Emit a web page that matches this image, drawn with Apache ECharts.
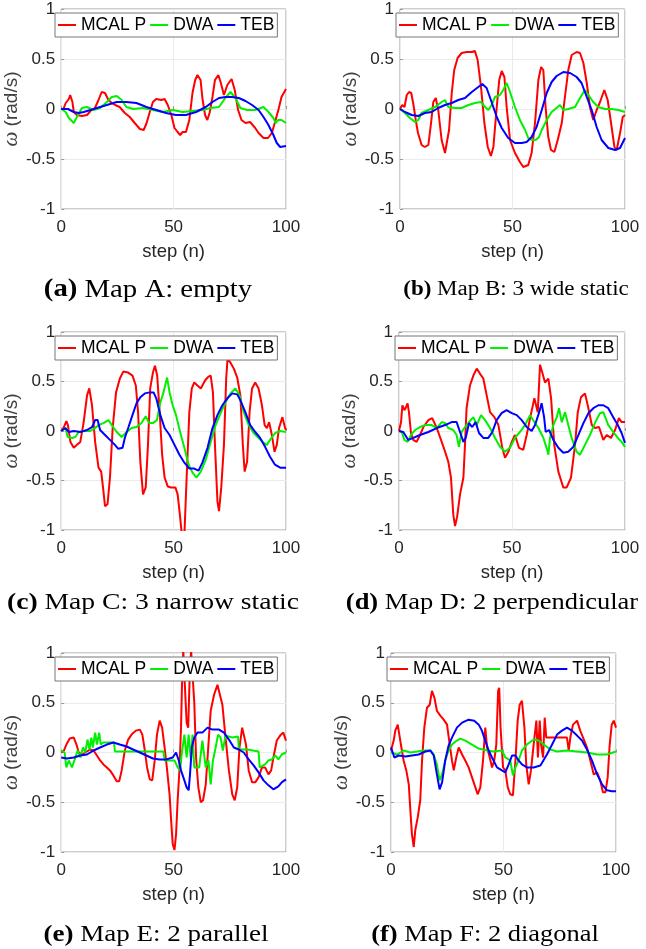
<!DOCTYPE html>
<html>
<head>
<meta charset="utf-8">
<script src="https://cdn.jsdelivr.net/npm/echarts@6/dist/echarts.min.js"></script>
<style>
  html, body { margin: 0; padding: 0; background: #fff; }
  #chart { width: 646px; height: 949px; }
</style>
</head>
<body>
<div id="chart"></div>
<script>
// series names and colours
var names = ['MCAL P', 'DWA', 'TEB'];
var colors = ['#ff0000', '#00f000', '#0000ff'];
var captions = [
  ['(a)', 'Map A: empty'],
  ['(b)', 'Map B: 3 wide static'],
  ['(c)', 'Map C: 3 narrow static'],
  ['(d)', 'Map D: 2 perpendicular'],
  ['(e)', 'Map E: 2 parallel'],
  ['(f)', 'Map F: 2 diagonal']
];

// map A: empty  ([step, omega])
var aMcal = [[0,0],[1,0],[2,0.06],[3.4,0.1],[4,0.14],[5,0.07],[5.6,-0.03],[7,-0.06],[9.2,-0.07],[11.5,-0.06],[13,-0.02],[15,0.01],[16.6,0.09],[18,0.17],[19.5,0.16],[21,0.09],[22.5,0.06],[24,0.04],[26,0.02],[28.3,-0.04],[30.5,-0.08],[32.7,-0.14],[35,-0.2],[36.7,-0.21],[38,-0.14],[39.4,-0.03],[40.8,0.07],[42.3,0.1],[44.5,0.09],[46,0.1],[47.4,0.04],[49,-0.06],[50.4,-0.19],[51.8,-0.23],[52.9,-0.26],[54,-0.23],[55.5,-0.23],[57,-0.11],[58.4,0.16],[59.6,0.29],[60.6,0.34],[62,0.29],[62.8,0.11],[64,-0.06],[65,-0.11],[66,-0.04],[67.3,0.12],[68.4,0.29],[69.9,0.34],[70.9,0.27],[72.4,0.14],[73.9,0.24],[75.8,0.3],[77.2,0.19],[78.7,-0.01],[80.2,-0.11],[82,-0.14],[84,-0.13],[86.3,-0.19],[87.8,-0.24],[90,-0.29],[92,-0.29],[93.7,-0.24],[95,-0.14],[96.6,-0.01],[98,0.12],[100,0.2]];
var aDwa = [[0,0],[2,-0.03],[3.4,-0.09],[5.6,-0.14],[7,-0.08],[9.2,0.01],[11.5,0.02],[14.4,-0.01],[17.3,0.01],[20.3,0.07],[22.5,0.12],[24.7,0.13],[26.9,0.09],[29,0.02],[32,0],[36.4,0.01],[40.8,-0.01],[45.2,-0.03],[49.6,-0.01],[54,-0.03],[58.4,-0.02],[62.8,-0.01],[66.5,0.01],[70.2,0.02],[73,0.11],[75.3,0.17],[77.5,0.11],[79.7,0.01],[82.7,-0.01],[86.3,-0.01],[90,0.02],[92.2,-0.03],[94.4,-0.09],[95.4,-0.14],[96.6,-0.11],[98,-0.11],[100,-0.14]];
var aTeb = [[0,0],[3,0],[5.6,-0.03],[7.8,-0.04],[10,-0.03],[13,-0.01],[15.9,0.01],[20.3,0.04],[24.7,0.07],[29,0.07],[33.5,0.06],[37.9,0.02],[42.3,-0.01],[46.7,-0.04],[51,-0.06],[55.5,-0.06],[60,-0.03],[64.3,0.02],[67.3,0.07],[70.2,0.11],[73.1,0.12],[76,0.12],[79,0.11],[82,0.08],[84.9,0.04],[87.8,-0.01],[90,-0.08],[92.2,-0.16],[94.4,-0.26],[95.9,-0.34],[97.4,-0.38],[100,-0.37]];

// map B: 3 wide static
var bMcal = [[0,0],[1,0.04],[2,0.02],[3,0.14],[4,0.17],[5,0.16],[6,0.04],[7,-0.11],[8,-0.24],[9.6,-0.36],[11,-0.38],[12.6,-0.36],[13.8,-0.14],[14.8,0.07],[15.9,0.11],[17,-0.01],[18.5,-0.31],[20,-0.44],[20.7,-0.43],[21.8,-0.21],[23,0.16],[24.1,0.39],[25.6,0.51],[27.4,0.56],[29.6,0.57],[31.9,0.57],[33.3,0.58],[34.5,0.49],[36,0.22],[37.5,-0.14],[39,-0.38],[40.4,-0.47],[41.5,-0.38],[43,0.02],[44.1,0.29],[45.2,0.38],[46.4,0.32],[47.4,0.02],[48.9,-0.31],[51.1,-0.44],[53.3,-0.53],[54.8,-0.58],[57,-0.56],[58.5,-0.44],[60,-0.14],[61.5,0.29],[62.7,0.42],[63.7,0.39],[64.7,0.02],[65.9,-0.28],[67.1,-0.41],[68.6,-0.43],[70.1,-0.31],[71.9,-0.14],[73.3,0.12],[74.8,0.39],[76.3,0.54],[78.5,0.57],[80,0.56],[81.5,0.46],[83,0.26],[84.4,0.02],[85.9,-0.11],[87.4,-0.01],[88.9,0.07],[90.8,0.19],[92.3,0.09],[93.8,-0.14],[95.3,-0.38],[96.3,-0.41],[97.8,-0.24],[99,-0.08],[100,-0.06]];
var bDwa = [[0,0],[2.2,-0.04],[4.4,-0.09],[6.7,-0.13],[8.1,-0.11],[9.6,-0.04],[12.6,-0.01],[15.6,0.02],[18.5,0.07],[20,0.09],[21.5,0.02],[24.4,0.01],[27.4,0.01],[30.4,0.04],[33.3,0.06],[36,0.07],[37.8,0.02],[39.3,-0.01],[40.7,0.04],[42.2,0.12],[44.4,0.14],[45.9,0.19],[47.4,0.26],[48.9,0.17],[51.1,0.02],[53.3,-0.11],[55.6,-0.21],[57,-0.29],[58.8,-0.31],[60.3,-0.31],[61.8,-0.28],[63,-0.21],[65.2,-0.11],[67.4,-0.03],[69.6,0.01],[71.1,0.04],[72.6,-0.01],[74.8,0],[77.8,0.02],[80,0.11],[82.2,0.19],[83.7,0.14],[85.9,0.07],[88.1,0.02],[91.1,0],[94.1,0],[97,-0.01],[100,-0.03]];
var bTeb = [[0,0],[2.2,-0.03],[5.2,-0.06],[8.1,-0.07],[11.1,-0.04],[14.1,-0.03],[17,0.01],[20,0.04],[23,0.06],[25.9,0.09],[28.9,0.11],[31.9,0.17],[34.8,0.22],[36.6,0.25],[38.5,0.21],[40.7,0.07],[43,-0.08],[45.2,-0.19],[48.1,-0.29],[51.1,-0.34],[54.1,-0.34],[56.3,-0.33],[58.5,-0.28],[60.7,-0.18],[63,-0.01],[65.2,0.16],[67.4,0.27],[69.6,0.33],[72.6,0.37],[75.6,0.36],[78.5,0.32],[80.7,0.26],[83,0.12],[85.2,-0.01],[87.4,-0.18],[89.6,-0.31],[92.6,-0.39],[95.6,-0.41],[97.8,-0.39],[100,-0.29]];

// map C: 3 narrow static
var cMcal = [[0,0],[1.2,0.04],[2.3,0.1],[3,0.06],[4.1,-0.11],[5.6,-0.17],[7,-0.14],[8.5,-0.11],[10,0.09],[11.5,0.36],[12.5,0.43],[13.7,0.26],[15.1,-0.11],[16.6,-0.37],[17.8,-0.41],[18.8,-0.61],[19.5,-0.76],[20.6,-0.74],[21.7,-0.47],[22.9,0.03],[24.4,0.39],[26.1,0.53],[27.6,0.6],[29.8,0.59],[31.7,0.56],[33.2,0.46],[34.2,0.19],[35.2,-0.31],[36.4,-0.64],[37.6,-0.57],[38.6,-0.14],[39.6,0.43],[40.8,0.59],[41.7,0.66],[42.7,0.56],[43.8,0.19],[44.9,-0.24],[46,-0.47],[47.4,-0.56],[48.9,-0.57],[50.8,-0.57],[51.8,-0.64],[52.9,-0.87],[53.7,-1.05],[54.8,-1.05],[55.8,-0.47],[57,0.19],[58.1,0.43],[59.2,0.49],[60.6,0.46],[62.1,0.43],[64,0.51],[65.5,0.55],[66.5,0.56],[67.5,0.39],[68.4,-0.14],[69.5,-0.71],[70.2,-0.81],[71.2,-0.57],[72.4,-0.14],[73.4,0.53],[74,0.73],[75.3,0.69],[76.8,0.63],[78.3,0.54],[79.7,0.36],[80.8,-0.14],[81.6,-0.41],[82.7,-0.31],[83.8,0.19],[84.9,0.43],[86.3,0.49],[87.8,0.43],[89.3,0.26],[90.5,0.06],[91.5,0.03],[92.5,0.09],[93.7,-0.04],[94.9,-0.21],[95.9,-0.14],[96.9,0.03],[98.4,0.14],[99.6,0.03],[100,0.01]];
var cDwa = [[0,0],[1.9,0.03],[2.9,-0.06],[4.8,-0.07],[6.3,-0.06],[7.8,-0.01],[10,0],[12.9,0],[15.1,0.03],[16.6,0.06],[18.8,0.08],[21,0.11],[22.5,0.06],[24.7,-0.01],[26.9,-0.06],[29.1,-0.01],[31.3,0.03],[33.5,0.04],[35.7,0.08],[37.6,0.15],[39.1,0.08],[40.8,0.08],[42.6,0.11],[44,0.28],[45.5,0.39],[47.1,0.54],[48.2,0.39],[49.6,0.26],[51.1,0.16],[52.9,-0.01],[54.8,-0.17],[56.7,-0.34],[58.4,-0.42],[60.2,-0.47],[62.1,-0.41],[64.3,-0.29],[66.5,-0.11],[68.7,0.06],[70.9,0.18],[73.1,0.29],[75.3,0.38],[77.5,0.43],[79.3,0.36],[81.2,0.19],[83.4,0.06],[85.6,-0.02],[87.8,-0.07],[90,-0.12],[91.5,-0.14],[92.9,-0.09],[95.2,-0.02],[97.4,0],[100,-0.01]];
var cTeb = [[0,0],[1.9,0.03],[3.4,-0.01],[5.6,0],[8.5,-0.01],[11.5,0.01],[13.7,0.04],[15.1,0.11],[16.2,0.11],[17.3,0.01],[19.5,-0.04],[21.7,-0.09],[23.9,-0.14],[25.4,-0.18],[27.3,-0.17],[28.3,-0.07],[29.8,0.03],[31.7,0.16],[33.5,0.28],[35.2,0.34],[37.2,0.38],[39.4,0.39],[41.1,0.39],[42.3,0.33],[44.1,0.16],[46,0.03],[48.2,-0.04],[50.4,-0.14],[52.6,-0.24],[54.8,-0.32],[57,-0.38],[59.2,-0.38],[61.1,-0.4],[62.8,-0.32],[65.1,-0.17],[67.3,0.03],[69.5,0.16],[71.7,0.26],[73.9,0.33],[76.1,0.38],[78.3,0.37],[79.7,0.31],[81.9,0.19],[84.1,0.06],[86.3,-0.01],[88.5,-0.07],[90.7,-0.16],[92.9,-0.26],[95.1,-0.34],[97.4,-0.37],[100,-0.37]];

// map D: 2 perpendicular
var dMcal = [[0,0],[0.9,0.09],[1.5,0.26],[2.4,0.21],[3.1,0.24],[3.8,0.28],[4.4,0.19],[5.3,-0.02],[6.3,-0.09],[7.8,-0.11],[9.3,-0.04],[10.8,0.04],[13,0.11],[14.7,0.13],[16.7,0.03],[18.9,-0.11],[20.4,-0.21],[21.8,-0.31],[23,-0.47],[24,-0.84],[24.8,-0.96],[25.7,-0.87],[27,-0.64],[28.5,-0.47],[29.2,-0.14],[29.9,0.23],[31.4,0.46],[32.9,0.56],[34.4,0.63],[35.8,0.58],[37.3,0.53],[38.8,0.36],[40.3,0.19],[42.2,0.14],[44,0.06],[45.7,-0.17],[46.9,-0.27],[48.4,-0.21],[49.9,-0.11],[51.3,-0.04],[53.1,-0.17],[55,-0.19],[56.5,-0.04],[58,0.13],[59.9,0.33],[61.4,0.19],[62.4,0.67],[63.4,0.59],[64.6,0.49],[66.1,0.53],[67.3,0.33],[68.7,-0.14],[70.5,-0.41],[72.7,-0.57],[74.2,-0.57],[76.1,-0.47],[77.9,-0.14],[79.1,0.19],[80.5,0.34],[82.3,0.38],[83.8,0.23],[85.3,0.06],[86.7,0.03],[88.5,0.04],[90.4,-0.09],[91.9,-0.04],[93.8,-0.07],[95.6,0.01],[97.3,0.13],[98.5,0.09],[100,0.09]];
var dDwa = [[0,0],[1.2,-0.01],[2.4,-0.09],[3.8,-0.11],[5.3,-0.04],[7.1,0.01],[9.3,0.04],[11.5,0.06],[14.5,0.06],[16.7,0.03],[18.9,0.09],[20.4,0.08],[21.8,0.03],[24,0.01],[25.5,-0.04],[26.5,-0.16],[27.7,-0.01],[29.2,0.04],[31,0.09],[32.9,0.14],[34.4,0.06],[36.3,0.16],[38.1,0.11],[40.3,0.03],[42.5,-0.07],[44.7,-0.16],[46.9,-0.21],[49.1,-0.17],[51.3,-0.07],[53.5,-0.01],[55.8,0.06],[58,0.16],[59.9,0.09],[61.7,0.03],[63.9,-0.07],[65.3,-0.17],[66.1,-0.24],[66.8,-0.07],[68.3,0.06],[69.8,0.14],[70.8,0.23],[72,0.09],[73.5,0.19],[74.9,0.06],[76.4,-0.07],[78.6,-0.21],[80.1,-0.24],[82.3,-0.14],[84.5,-0.04],[86.7,0.08],[88.9,0.18],[90.4,0.19],[92.6,0.06],[94.8,-0.01],[96.8,-0.07],[98.5,-0.11],[100,-0.16]];
var dTeb = [[0,0],[1.9,-0.01],[4.1,-0.09],[6.3,-0.07],[9.3,-0.04],[13,-0.01],[16.7,0.03],[20.4,0.06],[23.3,0.09],[25.5,0.09],[27,-0.01],[28.5,-0.11],[29.5,-0.07],[31,0.08],[32.4,0.04],[33.9,0.09],[35.4,-0.02],[37.3,-0.07],[39.5,-0.07],[41.3,-0.01],[43.2,0.11],[45.4,0.18],[47.6,0.21],[49.9,0.18],[52.1,0.16],[54.3,0.11],[56.5,0.04],[58.7,0],[60.2,0.06],[61.9,0.18],[63.1,0.28],[64.2,0.14],[64.9,-0.01],[66.4,0.01],[68.3,-0.09],[70.5,-0.17],[72.7,-0.22],[74.9,-0.21],[77.1,-0.16],[79.4,-0.04],[81.6,0.08],[83.8,0.18],[86,0.23],[88.2,0.26],[90.4,0.26],[92.6,0.23],[94.8,0.14],[96.8,0.06],[98.5,-0.02],[100,-0.12]];

// map E: 2 parallel
var eMcal = [[0,0],[1.2,0.02],[2.3,0.08],[3.8,0.14],[5.6,0.15],[6.8,0.08],[7.8,0],[9.3,-0.02],[10.7,0],[12.9,0.03],[14.4,0.02],[15.9,-0.03],[17.3,-0.08],[18.8,-0.12],[20.3,-0.15],[21.7,-0.18],[23.2,-0.23],[24.7,-0.29],[25.8,-0.29],[26.9,-0.18],[28.3,0.02],[29.8,0.13],[31.3,0.18],[33.2,0.22],[35,0.23],[36.1,0.18],[37.2,0.02],[38.2,-0.15],[39.4,-0.27],[40.5,-0.28],[41.6,-0.08],[42.6,0.18],[43.8,0.32],[44.9,0.25],[46,0.05],[47,-0.15],[48.2,-0.42],[48.9,-0.68],[49.6,-0.92],[50.4,-0.98],[51.1,-0.82],[51.8,-0.48],[52.6,-0.18],[53.3,0.25],[53.7,0.65],[54.3,1.02],[55,1.02],[55.8,0.3],[56.5,0.25],[57.2,0.8],[57.8,1.02],[58.5,1.02],[59.2,0.5],[60,-0.05],[61,-0.35],[62.1,-0.5],[63.1,-0.48],[64.3,-0.32],[65.5,0.08],[66.5,0.42],[68,0.58],[69.5,0.68],[70.2,0.67],[71.7,0.48],[73.1,0.15],[74.6,-0.18],[76.1,-0.42],[77.2,-0.48],[78.3,-0.35],[79.3,0.05],[80.5,0.25],[81.2,0.27],[82.2,0.08],[83.4,-0.18],[84.9,-0.3],[86.3,-0.3],[87.8,-0.25],[89.3,-0.15],[90.7,-0.15],[92.2,-0.22],[93.4,-0.18],[94.4,-0.05],[95.9,0.12],[97.4,0.17],[98.8,0.2],[100,0.12]];
var eDwa = [[0,0.02],[1.5,0],[2.3,-0.15],[3.4,-0.08],[4.8,-0.15],[6.3,-0.05],[7.3,0.02],[8.5,-0.05],[9.7,0.05],[10.7,0],[11.7,0.13],[12.6,0.03],[13.4,0.15],[14.1,0.05],[15.1,0.2],[15.9,0.08],[16.9,0.2],[17.6,0.08],[18.8,0.1],[21.7,0.1],[23.5,0.1],[23.9,0.01],[27.6,0.01],[35,0.01],[42.3,0.01],[45.5,0.01],[46,-0.08],[48.2,-0.08],[50.4,-0.08],[51.8,-0.15],[52.9,-0.18],[53.7,0],[54.8,0.18],[55.8,-0.05],[56.7,0.18],[57.7,-0.08],[58.4,0.18],[59.2,-0.15],[61.4,-0.15],[62.8,0.12],[64.3,-0.15],[65.5,-0.08],[66.5,-0.32],[67.5,-0.08],[68.7,0.05],[69.8,0.18],[70.9,0.15],[71.9,0.02],[73.1,0.17],[76.1,0.15],[78.7,0.16],[79,0.03],[82.7,0.03],[87.8,0.01],[88.3,-0.15],[90.7,-0.12],[92.2,-0.08],[93.7,-0.07],[95.2,-0.03],[96.6,-0.07],[98.1,-0.02],[100,0]];
var eTeb = [[0,-0.05],[2.6,-0.06],[5.6,-0.05],[8.5,-0.03],[11.5,-0.02],[14.4,0.02],[17.3,0.05],[20.3,0.08],[23.2,0.1],[26.1,0.08],[29.1,0.06],[32,0.03],[35,0],[37.9,-0.03],[40.8,-0.06],[43.8,-0.07],[46.7,-0.07],[49.6,-0.05],[51.1,0],[52.3,-0.08],[53.3,-0.18],[54.8,-0.28],[55.8,-0.35],[56.7,-0.38],[57.3,-0.22],[58.1,0.05],[59.2,0.15],[60.6,0.2],[62.8,0.2],[65.1,0.25],[67.3,0.23],[70.2,0.23],[72.4,0.2],[74.6,0.13],[76.8,0.05],[79,0.03],[81.2,0],[83.4,-0.07],[85.6,-0.13],[87.8,-0.2],[90,-0.28],[92.2,-0.33],[94.4,-0.37],[96.6,-0.34],[98.1,-0.3],[100,-0.27]];

// map F: 2 diagonal
var fMcal = [[0,0.02],[1.2,0.12],[1.9,0.22],[3,0.28],[3.6,0.3],[4.4,0.08],[5.6,-0.08],[6.8,-0.18],[7.9,-0.32],[8.6,-0.58],[9.3,-0.82],[10.1,-0.95],[10.8,-0.78],[11.9,-0.65],[13,-0.48],[13.8,-0.08],[14.8,0.25],[16,0.45],[17.2,0.48],[18.2,0.62],[19.3,0.55],[20.4,0.42],[21.9,0.37],[23.4,0.33],[24.9,0.28],[26.1,0.08],[27.1,-0.08],[27.9,-0.18],[29,-0.05],[30.1,0.05],[31.6,-0.02],[33,-0.08],[34.5,-0.15],[36,-0.25],[37.5,-0.35],[38.5,-0.42],[39.7,-0.35],[40.9,-0.08],[41.9,0.25],[42.7,0.05],[43.9,-0.05],[44.9,-0.15],[45.9,-0.08],[46.8,0.08],[47.6,0.62],[48.1,0.65],[48.7,0.25],[49.8,-0.15],[50.8,-0.18],[51.9,-0.35],[53,-0.42],[54.2,-0.43],[55.3,-0.08],[56.3,0.32],[57.2,0.48],[58.2,0.52],[59.3,0.25],[60.1,-0.12],[61.2,-0.32],[62.2,-0.18],[63.4,0.08],[64.6,0.32],[65.3,-0.05],[66.1,0.32],[66.7,0.08],[67.6,-0.05],[68.3,0.35],[69,0.15],[72.3,0.15],[75.3,0.15],[78.2,0.15],[79,0.02],[79.7,0.15],[80.9,0.28],[82.7,0.32],[84.1,0.22],[85.9,0.12],[87.1,0.05],[88.6,-0.08],[90.1,-0.22],[91.6,-0.2],[93,-0.28],[94.2,-0.4],[95.3,-0.4],[96.3,-0.25],[97.2,0.08],[98.1,0.28],[99,0.32],[100,0.25]];
var fDwa = [[0,0],[2.7,-0.02],[5.6,0.02],[8.6,0],[11.6,0.01],[14.5,0.02],[17.5,0.02],[19,-0.02],[20.4,-0.12],[21.6,-0.28],[22.7,-0.22],[24.1,-0.08],[25.6,0.02],[27.1,0.08],[29.3,0.12],[30.8,0.14],[33,0.12],[36,0.08],[39,0.04],[42.7,0.02],[45.6,0.01],[49.3,0.02],[50.8,-0.05],[53,-0.08],[54.2,-0.23],[55.3,-0.15],[56.7,-0.08],[58.2,0.02],[60.4,0.08],[63.4,0.13],[65.6,0.12],[67.9,0.08],[70.8,0.03],[73.8,0.01],[78.2,0.02],[82.7,0.01],[87.1,0],[91.6,-0.02],[96,-0.02],[100,0.01]];
var fTeb = [[0,0.05],[1.5,-0.05],[3.4,-0.03],[6.4,-0.04],[9.3,-0.03],[12.3,-0.02],[15.3,0.01],[17.5,0.02],[19,-0.03],[20.4,-0.22],[21.6,-0.37],[22.7,-0.3],[24.1,-0.08],[25.6,0.07],[27.1,0.15],[29.3,0.25],[31.6,0.3],[34.5,0.33],[37,0.32],[39,0.28],[40.4,0.22],[41.9,0.12],[43.4,0.02],[44.9,-0.05],[47.1,-0.15],[49.3,-0.18],[50.8,-0.2],[52.3,-0.12],[53.8,-0.03],[55.3,-0.03],[56.7,-0.08],[58.2,-0.12],[60.4,-0.15],[63.4,-0.15],[66.4,-0.13],[69.3,-0.02],[71.6,0.08],[73.8,0.18],[76,0.22],[78.2,0.25],[80.4,0.22],[82.7,0.17],[84.9,0.12],[87.1,0.03],[89.3,-0.08],[91.6,-0.22],[93.8,-0.32],[96,-0.38],[98.2,-0.39],[100,-0.39]];

var panelData = [
  [aMcal, aDwa, aTeb],
  [bMcal, bDwa, bTeb],
  [cMcal, cDwa, cTeb],
  [dMcal, dDwa, dTeb],
  [eMcal, eDwa, eTeb],
  [fMcal, fDwa, fTeb]
];

// plot boxes in pixels: left, top, width, height
var boxes = [
  [59, 9, 227, 200], [400, 9, 225, 200],
  [59, 332, 227, 198], [399, 332, 226, 198],
  [59, 653, 227, 199], [391, 653, 225, 199]
];
// caption centre points and font sizes (the subfigures are scaled differently)
var capPos = [[148, 290], [516, 290], [153, 603], [492, 603], [156, 935], [485, 935]];
var capSize = [25, 20, 24, 23, 23.5, 23];

var sans = '"Liberation Sans", Arial, Helvetica, sans-serif';
var serif = '"Liberation Serif", "Times New Roman", serif';

var grids = [], xAxes = [], yAxes = [], legends = [], series = [], graphics = [];

boxes.forEach(function (b, i) {
  grids.push({
    left: b[0], top: b[1], width: b[2], height: b[3],
    show: true, borderColor: '#9a9a9a', borderWidth: 1, backgroundColor: '#fff'
  });
  xAxes.push({
    type: 'value', gridIndex: i, min: 0, max: 100, interval: 50,
    name: 'step (n)', nameLocation: 'middle', nameGap: 33,
    nameTextStyle: { fontFamily: sans, fontSize: 18.5, color: '#262626' },
    axisLine: { show: false },
    axisTick: { show: true, inside: true, length: 3, lineStyle: { color: '#9a9a9a' } },
    axisLabel: { fontFamily: sans, fontSize: 17, color: '#262626', margin: 10 },
    splitLine: { show: true, lineStyle: { color: '#ebebeb', width: 1 } }
  });
  yAxes.push({
    type: 'value', gridIndex: i, min: -1, max: 1, interval: 0.5,
    name: '{w|ω} (rad/s)', nameLocation: 'middle', nameGap: 36, nameRotate: 90,
    nameTextStyle: {
      fontFamily: sans, fontSize: 19, color: '#404040',
      rich: { w: { fontFamily: serif, fontStyle: 'italic', fontSize: 21, color: '#404040' } }
    },
    axisLine: { show: false },
    axisTick: { show: true, inside: true, length: 3, lineStyle: { color: '#9a9a9a' } },
    axisLabel: { fontFamily: sans, fontSize: 17, color: '#262626', margin: 6 },
    splitLine: { show: true, lineStyle: { color: '#ebebeb', width: 1 } }
  });
  legends.push({
    left: b[0] - 4, top: b[1] + 4,
    orient: 'horizontal', data: names,
    icon: 'rect', itemWidth: 18, itemHeight: 2, itemGap: 4,
    padding: [3, 3], backgroundColor: '#fff',
    borderColor: '#777', borderWidth: 1, borderRadius: 0,
    selectedMode: false,
    textStyle: { fontFamily: sans, fontSize: 17.5, color: '#000' }
  });
  panelData[i].forEach(function (d, k) {
    series.push({
      name: names[k], type: 'line', xAxisIndex: i, yAxisIndex: i,
      data: d, symbol: 'none', showSymbol: false, clip: true,
      color: colors[k],
      lineStyle: { color: colors[k], width: 2 }
    });
  });
  graphics.push({
    type: 'text', x: capPos[i][0], y: capPos[i][1], scaleX: 1.15,
    style: {
      text: '{b|' + captions[i][0] + '} ' + captions[i][1],
      font: capSize[i] + 'px ' + serif, fill: '#000',
      align: 'center', verticalAlign: 'middle',
      rich: { b: { fontFamily: serif, fontWeight: 'bold', fontSize: capSize[i], fill: '#000' } }
    }
  });
});

var chart = echarts.init(document.getElementById('chart'), null, { renderer: 'canvas' });
chart.setOption({
  animation: false,
  backgroundColor: '#fff',
  grid: grids,
  xAxis: xAxes,
  yAxis: yAxes,
  legend: legends,
  series: series,
  graphic: graphics
});
</script>
</body>
</html>
